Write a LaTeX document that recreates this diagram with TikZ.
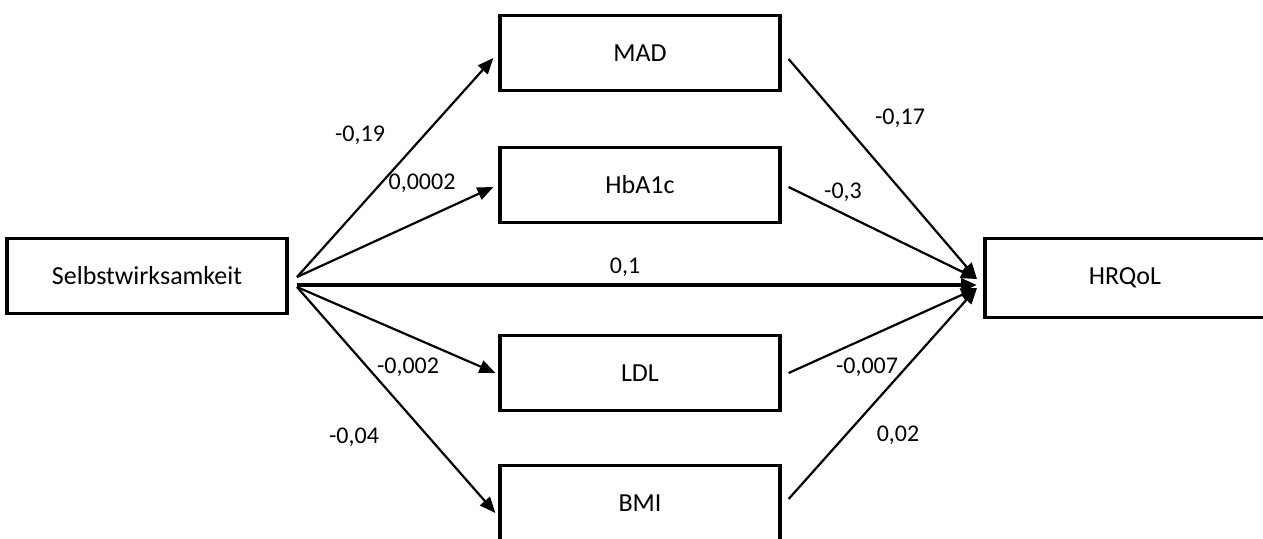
\documentclass[tikz,border=0pt]{standalone}
\usepackage{fontspec}
\setmainfont{Carlito}
\usetikzlibrary{arrows.meta}
\tikzset{
  var/.style={draw, line width=1.6pt, minimum width=140pt, minimum height=37.5pt, inner sep=0pt, font=\fontsize{13}{15}\selectfont},
  eff/.style={line width=1.1pt, -{Triangle[length=8pt,width=6.5pt]}},
  coef/.style={inner sep=0pt, font=\fontsize{12}{14}\selectfont}
}

\begin{document}
\begin{tikzpicture}[x=0.5pt, y=-0.5pt]
      \useasboundingbox (0,0) rectangle (1263,538);
      \node [var] (selbst) at (147,276) {Selbstwirksamkeit};
      \node [var] (mad) at (640,53) {MAD};
      \node [var] (hba) at (640,185) {HbA1c};
      \node [var] (ldl) at (640,373) {LDL};
      \node [var] (bmi) at (640,503) {BMI};
      \node [var, minimum height=39.5pt] (hrqol) at (1125,278) {HRQoL};
      \coordinate (srcup) at (297,277);
      \coordinate (srcmid) at (297,285);
      \coordinate (srclow) at (297,287);
      \coordinate (dstup) at (977,279);
      \coordinate (dstmid) at (977,285);
      \coordinate (dstlow) at (977,288);
      % a-Pfade
      \draw [eff] (srcup) to ([xshift=-2.5pt, yshift=-2.5pt]mad.west);
      \draw [eff] (srcup) to ([xshift=-2.5pt, yshift=-1pt]hba.west);
      \draw [eff] (srclow) to ([xshift=-1.5pt]ldl.west);
      \draw [eff] (srclow) to ([xshift=-1.5pt, yshift=-5pt]bmi.west);
      % direkter Pfad
      \draw [eff, line width=1.8pt] (srcmid) to (dstmid);
      % b-Pfade
      \draw [eff] ([xshift=3.5pt, yshift=-3pt]mad.east) to (dstup);
      \draw [eff] ([xshift=3.5pt, yshift=-1pt]hba.east) to (dstup);
      \draw [eff] ([xshift=3.5pt]ldl.east) to (dstlow);
      \draw [eff] ([xshift=3.5pt, yshift=2pt]bmi.east) to (dstlow);
      % Koeffizienten
      \node [coef] (ca1) at (360,135) {-0,19};
      \node [coef] (ca2) at (422,183) {0,0002};
      \node [coef] (ca3) at (408,367) {-0,002};
      \node [coef] (ca4) at (354,437) {-0,04};
      \node [coef] (cc) at (625,267) {0,1};
      \node [coef] (cb1) at (900,118) {-0,17};
      \node [coef] (cb2) at (843,192) {-0,3};
      \node [coef] (cb3) at (867,367) {-0,007};
      \node [coef] (cb4) at (898,435) {0,02};
    \end{tikzpicture}
\end{document}
